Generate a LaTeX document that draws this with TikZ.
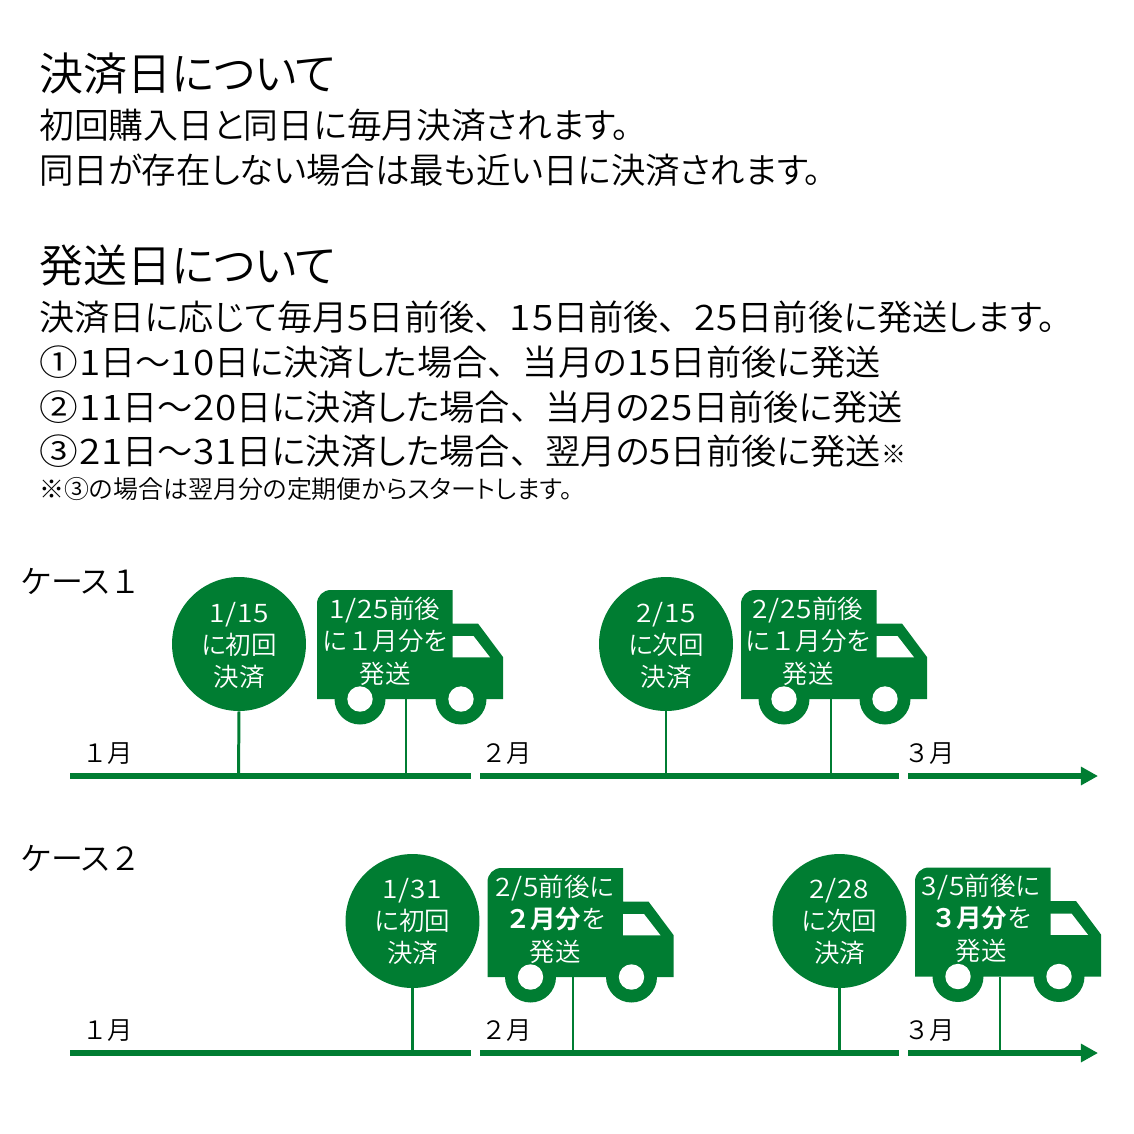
\documentclass[tikz,border=0pt]{standalone}
\usepackage{fontspec}
\usepackage{graphicx}
\setmainfont{Noto Sans CJK JP DemiLight}[RawFeature=+palt]
\newfontfamily\boldjp{Noto Sans CJK JP Bold}
\newfontfamily\dgf{Noto Sans CJK JP DemiLight}[FakeStretch=1.1,LetterSpace=3]
\newfontfamily\fwf{Noto Sans CJK JP DemiLight}
\newcommand{\dg}[1]{{\dgf #1}}
\newcommand{\fw}[1]{{\fwf #1}}
\newcommand{\sx}[2]{\scalebox{#1}[1]{#2}}
\usetikzlibrary{arrows.meta}
\definecolor{grn}{RGB}{0,125,50}
\newcommand{\fsz}[2]{\fontsize{#1}{#2}\selectfont}
\tikzset{
 x=0.02cm,y=-0.02cm,
 line/.style={anchor=base west,inner sep=0pt,text=black},
 title/.style={line,font=\fsz{25.6}{28}},
 body/.style={line,font=\fsz{20}{24}},
 small/.style={line,font=\fsz{14.2}{16}},
 month/.style={line,font=\fsz{14.4}{16}},
 case/.style={line,font=\fsz{18.2}{20}},
 disc/.style={circle,fill=grn,minimum size=2.68cm,inner sep=0pt},
 disctext/.style={text=white,align=center,inner sep=0pt,font=\fsz{14.5}{18}},
 trucktext/.style={text=white,align=center,inner sep=0pt,font=\fsz{14.5}{18.4}},
 axis/.style={grn,line width=3.2pt},
 stem/.style={grn,line width=1.7pt},
}
\newcommand{\truck}[3]{%
 \begin{scope}[shift={(#2,#3)}]
  \fill[grn] (317,699) -- (317,604) .. controls (317,596) and (323,590) .. (331,590) -- (452.5,590) -- (452.5,623.5) -- (478,623.5) -- (503,657) -- (503,699) -- cycle;
  \fill[grn] (360,699) circle[radius=25.5] (461,699) circle[radius=25.5];
  \fill[white] (360,699) circle[radius=12.7] (461,699) circle[radius=12.7];
  \fill[white] (452.5,636) -- (473.5,636) -- (490,657.3) -- (452.5,657.3) -- cycle;
 \end{scope}}
\begin{document}
\begin{tikzpicture}
\useasboundingbox (0,0) rectangle (1134,1134);
\node[title] (t1) at (39,90) {\sx{.98}{決済日について}};
\node[body] (b1) at (39,138.5) {\sx{.99}{初回購入日と同日に毎月決済されます。}};
\node[body] (b2) at (39,183.5) {\sx{.98}{同日が存在しない場合は最も近い日に決済されます。}};
\node[title] (t2) at (39,282) {\sx{.98}{発送日について}};
\node[body] (b3) at (39,330.5) {\sx{1.002}{決済日に応じて毎月\dg{5}日前後\fw{、}\dg{15}日前後\fw{、}\dg{25}日前後に発送します。}};
\node[body] (b4) at (39,375.5) {\sx{1.002}{\dg{①1}日～\dg{10}日に決済した場合\fw{、}当月の\dg{15}日前後に発送}};
\node[body] (b5) at (39,420.5) {\sx{1.002}{\dg{②11}日～\dg{20}日に決済した場合\fw{、}当月の\dg{25}日前後に発送}};
\node[body] (b6) at (39,464.5) {\sx{1.002}{\dg{③21}日～\dg{31}日に決済した場合\fw{、}翌月の\dg{5}日前後に発送}};
\node[small] (b6n) at (881,463) {※};
\node[small] (b7) at (39,498) {※③の場合は翌月分の定期便からスタートします。};
\node[case] (c1) at (21,593) {ケース\fw{１}};
\node[case] (c2) at (21,870) {ケース\fw{２}};
\node[month] (m1) at (82,762) {\fw{１}月};
\node[month] (m2) at (481,762) {\fw{２}月};
\node[month] (m3) at (904,762) {\fw{３}月};
\node[month] (m4) at (82,1039) {\fw{１}月};
\node[month] (m5) at (481,1039) {\fw{２}月};
\node[month] (m6) at (904,1039) {\fw{３}月};
\foreach \a/\d in {A/776,B/1053}{
 \coordinate (\a1) at (70,\d); \coordinate (\a2) at (471,\d);
 \coordinate (\a3) at (480,\d); \coordinate (\a4) at (899,\d);
 \coordinate (\a5) at (908,\d); \coordinate (\a6) at (1098,\d);
 \draw[axis] (\a1) -- (\a2);
 \draw[axis] (\a3) -- (\a4);
 \draw[axis,-{Triangle[length=9.7pt,width=10pt]}] (\a5) -- (\a6);
}
\truck{k1}{0}{0}
\truck{k2}{424}{0}
\truck{k3}{170.5}{278}
\truck{k4}{598}{277.5}
\node[trucktext] (k1t) at (385,641) {\dg{1/25}前後\\に\fw{１}月分を\\発送};
\node[trucktext] (k2t) at (808,641) {\dg{2/25}前後\\に\fw{１}月分を\\発送};
\node[trucktext] (k3t) at (555,919) {\dg{2/5}前後に\\{\boldjp ２月分}を\\発送};
\node[trucktext] (k4t) at (981,918) {\dg{3/5}前後に\\{\boldjp ３月分}を\\発送};
\node[disc] (d1) at (239,644) {};
\node[disc] (d2) at (666,644) {};
\node[disc] (d3) at (412.5,921) {};
\node[disc] (d4) at (839.5,921) {};
\node[disctext] (e1) at (239,645.5) {\dg{1/15}\\に初回\\決済};
\node[disctext] (e2) at (666,645.5) {\dg{2/15}\\に次回\\決済};
\node[disctext] (e3) at (412.5,921.5) {\dg{1/31}\\に初回\\決済};
\node[disctext] (e4) at (839.5,921.5) {\dg{2/28}\\に次回\\決済};
\coordinate (s1) at (238.5,776); \coordinate (s2) at (666,776);
\coordinate (s3) at (412.5,1053); \coordinate (s4) at (839.5,1053);
\draw[stem] (d1.south) -- (s1);
\draw[stem] (d2.south) -- (s2);
\draw[stem] (d3.south) -- (s3);
\draw[stem] (d4.south) -- (s4);
\coordinate (u1) at (406,699); \coordinate (v1) at (406,776);
\coordinate (u2) at (831,699); \coordinate (v2) at (831,776);
\coordinate (u3) at (573,977); \coordinate (v3) at (573,1053);
\coordinate (u4) at (1000,977); \coordinate (v4) at (1000,1053);
\draw[stem] (u1) -- (v1);
\draw[stem] (u2) -- (v2);
\draw[stem] (u3) -- (v3);
\draw[stem] (u4) -- (v4);
\end{tikzpicture}
\end{document}
